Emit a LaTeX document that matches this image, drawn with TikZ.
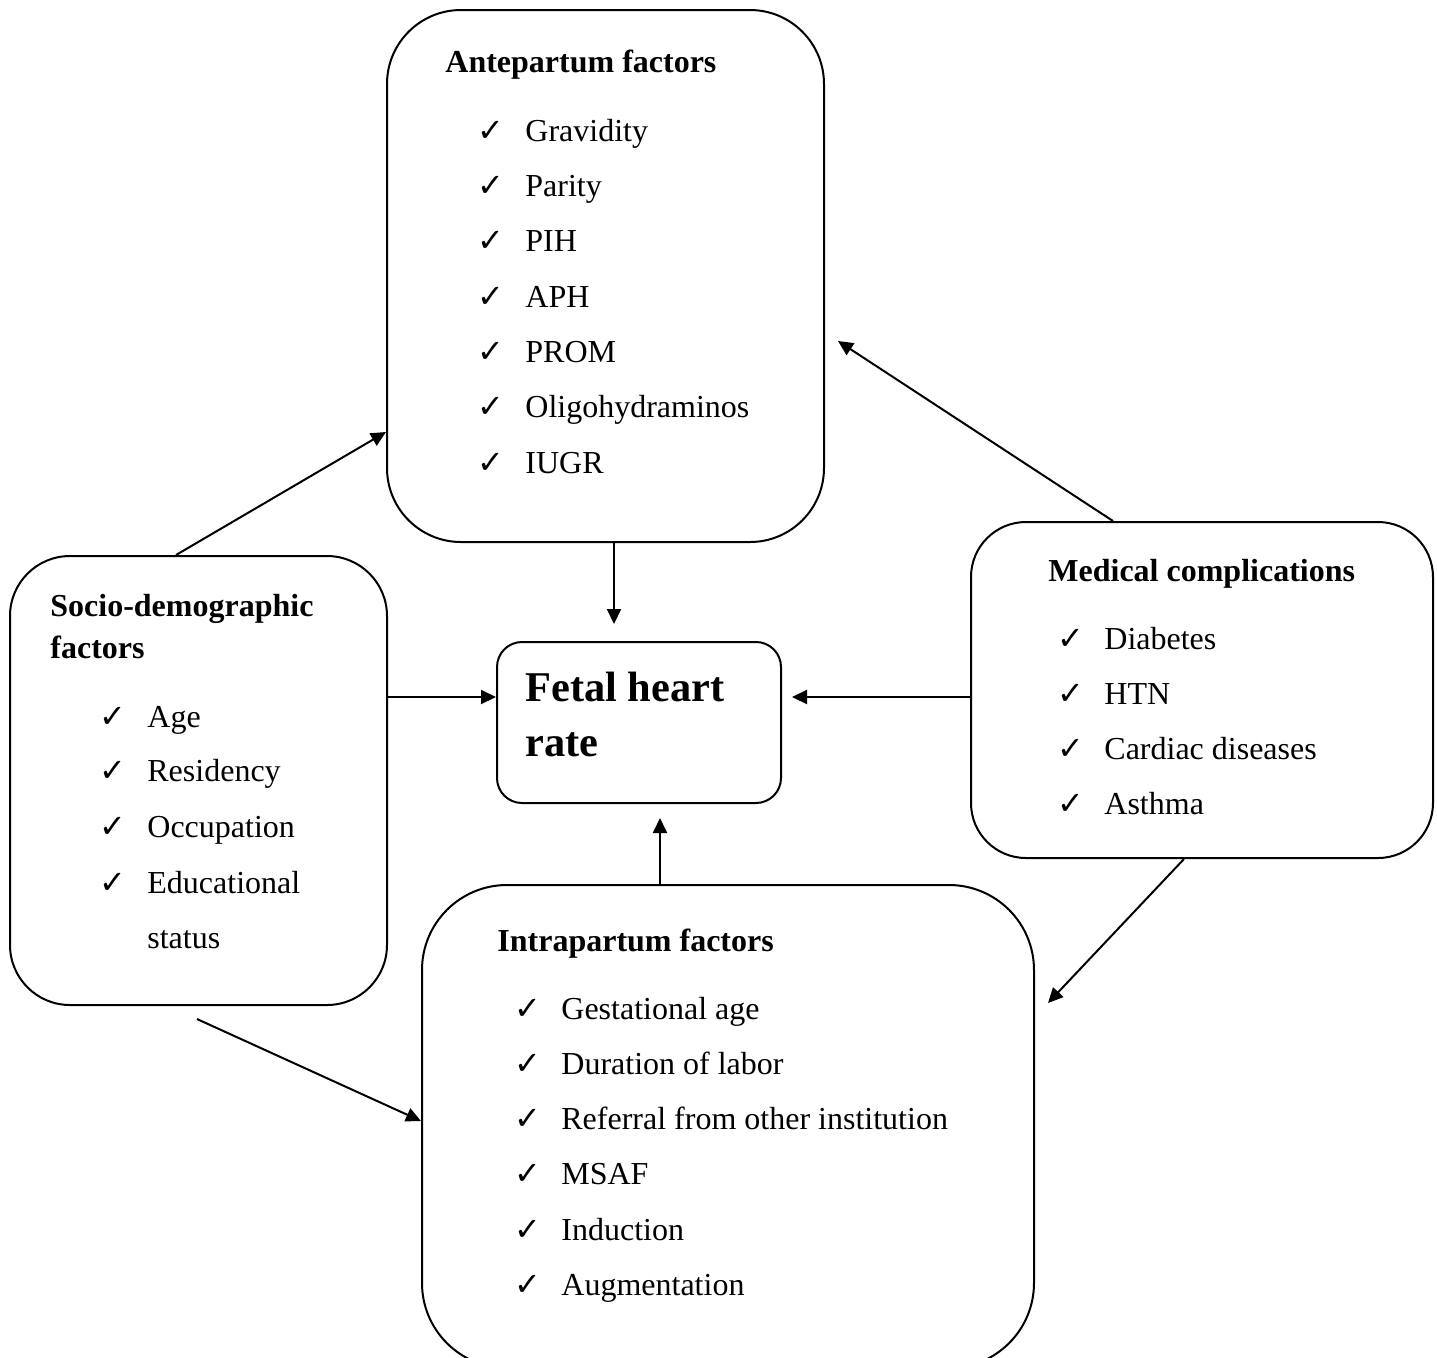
\documentclass[tikz,border=0pt]{standalone}
\usepackage{fontspec}
\setmainfont{Liberation Serif}
\newfontfamily\chkfont{DejaVu Sans}
\usetikzlibrary{arrows.meta}
\begin{document}
\begin{tikzpicture}[x=0.5pt,y=-0.5pt,
  box/.style={draw, line width=1pt, inner sep=0pt},
  arr/.style={-{Triangle[length=7.5pt,width=7pt]}, line width=1pt},
  txt/.style={anchor=base west, inner sep=0pt, font=\fontsize{16pt}{19pt}\selectfont},
  hdr/.style={anchor=base west, inner sep=0pt, font=\fontsize{16pt}{19pt}\selectfont\bfseries},
  big/.style={anchor=base west, inner sep=0pt, font=\fontsize{21.2pt}{25pt}\selectfont\bfseries},
  chk/.style={anchor=base west, inner sep=0pt, font=\chkfont\fontsize{16pt}{16pt}\selectfont}]
\useasboundingbox (0,0) rectangle (1437,1357);
\begin{scope}
\clip (0,0) rectangle (1437,1357);
% boxes
\node[box, rounded corners=37pt, minimum width=218.5pt, minimum height=266pt] (ante) at (605.5,276) {};
\node[box, rounded corners=30pt, minimum width=188.5pt, minimum height=224.5pt] (socio) at (198.5,780.5) {};
\node[box, rounded corners=12.5pt, minimum width=142pt, minimum height=80.5pt] (fetal) at (639,722.5) {};
\node[box, rounded corners=27.5pt, minimum width=231pt, minimum height=168pt] (med) at (1202,690) {};
\node[box, rounded corners=42.5pt, minimum width=306pt, minimum height=241.5pt] (intra) at (728,1126.5) {};
% texts
\node[hdr] (anteh) at (445,72) {Antepartum factors};
\foreach \t/\y [count=\i] in {Gravidity/141, Parity/196, PIH/251, APH/307, PROM/362, Oligohydraminos/417, IUGR/473}{
  \node[chk] (ac\i) at (477,\y) {✓};
  \node[txt] (at\i) at (525,\y) {\t};}
\node[hdr] (socioh1) at (50,616) {Socio-demographic};
\node[hdr] (socioh2) at (50,658) {factors};
\foreach \t/\y [count=\i] in {Age/727, Residency/781, Occupation/837, Educational/893}{
  \node[chk] (sc\i) at (99,\y) {✓};
  \node[txt] (st\i) at (147,\y) {\t};}
\node[txt] (st5) at (147,948) {status};
\node[big] (fetal1) at (525,701) {Fetal heart};
\node[big] (fetal2) at (525,756) {rate};
\node[hdr] (medh) at (1048,581) {Medical complications};
\foreach \t/\y [count=\i] in {Diabetes/649, HTN/704, Cardiac diseases/759, Asthma/814}{
  \node[chk] (mc\i) at (1057,\y) {✓};
  \node[txt] (mt\i) at (1104,\y) {\t};}
\node[hdr] (intrah) at (497,951) {Intrapartum factors};
\foreach \t/\y [count=\i] in {Gestational age/1019, Duration of labor/1074, Referral from other institution/1129, MSAF/1184, Induction/1240, Augmentation/1295}{
  \node[chk] (ic\i) at (514,\y) {✓};
  \node[txt] (it\i) at (561,\y) {\t};}
% connector helper coordinates
\coordinate (x614) at (614,0);
\coordinate (x176) at (176,0);
\coordinate (y432) at (0,432);
\coordinate (y697) at (0,697);
\coordinate (x1113) at (1113,0);
\coordinate (e5) at (838,341);
\coordinate (x1184) at (1184,0);
\coordinate (e6) at (1048,1003);
\coordinate (x660) at (660,0);
\coordinate (s8) at (197,1019);
\coordinate (y1121) at (0,1121);
% connectors
\draw[arr, shorten >=8.5pt] (ante.south -| x614) -- (fetal.north -| x614);
\draw[arr] (socio.north -| x176) -- (ante.west |- y432);
\draw[arr] (socio.east |- y697) -- (fetal.west |- y697);
\draw[arr, shorten >=5pt] (med.west |- y697) -- (fetal.east |- y697);
\draw[arr] (med.north -| x1113) -- (e5);
\draw[arr] (med.south -| x1184) -- (e6);
\draw[arr, shorten >=7pt] (intra.north -| x660) -- (fetal.south -| x660);
\draw[arr] (s8) -- (intra.west |- y1121);
\end{scope}
\end{tikzpicture}
\end{document}
